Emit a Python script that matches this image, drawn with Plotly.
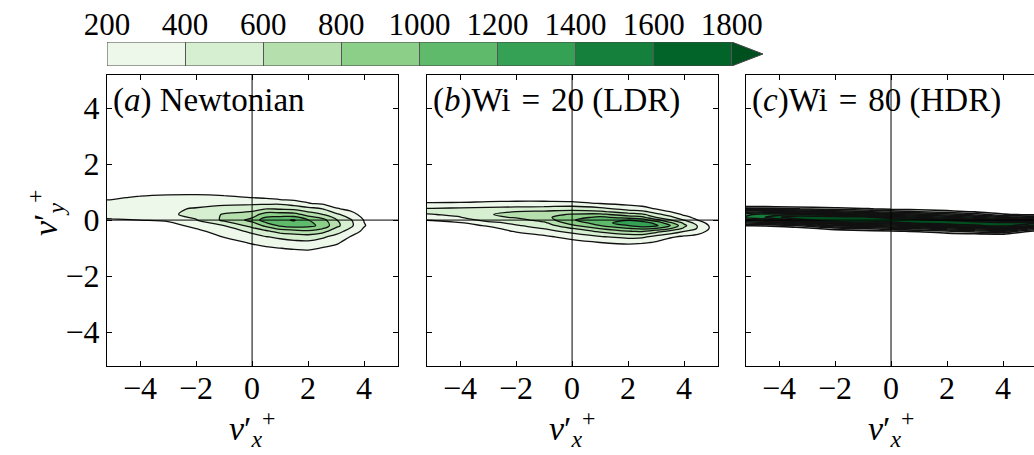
import numpy as np
import plotly.graph_objects as go

# ---------------- data ----------------
level_start, level_end, level_step = 200, 1800, 200
cbar_ticks = [200, 400, 600, 800, 1000, 1200, 1400, 1600, 1800]
band_colors = ['#eef8ea', '#d6efd0', '#b5e0ad', '#8bcf88', '#60ba6c',
               '#34a155', '#15803c', '#036429']
over_color = '#00501f'
under_color = '#ffffff'

xticks = [-4, -2, 0, 2, 4]
xticktext = ['\u22124', '\u22122', '0', '2', '4']
yticks = [4, 2, 0, -2, -4]
yticktext = ['4', '2', '0', '\u22122', '\u22124']

titles = ['(<i>a</i>) Newtonian',
          '(<i>b</i>)Wi\u2004=\u200420 (LDR)',
          '(<i>c</i>)Wi\u2004=\u200480 (HDR)']

# panel (a): joint PDF sampled on grid (columns = x nodes, entries = y nodes)
x_a = [-5.6, -5, -4, -3, -2, -1, 0, 0.5, 1, 1.5, 2, 2.5, 3, 3.5, 4, 4.5]
y_a = [1.2, 1.0, 0.8, 0.6, 0.4, 0.2, 0.0, -0.2, -0.4, -0.6, -0.8, -1.0, -1.2, -1.4]
pdf_a = [
    [0, 50, 150, 250, 270, 260, 170, 80, 20, 0, 0, 0, 0, 0],
    [0, 60, 170, 260, 290, 280, 180, 90, 30, 0, 0, 0, 0, 0],
    [20, 120, 230, 300, 340, 330, 200, 100, 40, 0, 0, 0, 0, 0],
    [40, 150, 250, 330, 380, 370, 230, 120, 50, 10, 0, 0, 0, 0],
    [40, 150, 260, 360, 410, 450, 390, 260, 150, 60, 10, 0, 0, 0],
    [30, 130, 240, 360, 470, 620, 640, 400, 290, 210, 100, 30, 0, 0],
    [20, 110, 200, 360, 520, 700, 860, 680, 440, 330, 230, 120, 40, 0],
    [20, 100, 180, 350, 600, 900, 1120, 850, 560, 390, 280, 170, 60, 0],
    [10, 80, 120, 360, 580, 900, 1160, 1030, 680, 440, 320, 200, 80, 10],
    [0, 50, 130, 280, 560, 880, 1215, 1100, 720, 480, 350, 230, 100, 20],
    [0, 30, 100, 210, 470, 720, 1010, 1060, 760, 500, 360, 250, 110, 20],
    [0, 10, 70, 160, 410, 610, 880, 950, 680, 430, 320, 190, 80, 0],
    [0, 0, 30, 110, 220, 440, 620, 660, 480, 340, 240, 140, 40, 0],
    [0, 0, 0, 40, 150, 290, 430, 450, 330, 195, 110, 40, 0, 0],
    [0, 0, 0, 0, 40, 120, 190, 215, 150, 60, 0, 0, 0, 0],
    [0, 0, 0, 0, 0, 20, 60, 80, 40, 0, 0, 0, 0, 0],
]

# panel (b)
x_b = [-5.6, -5, -4, -3, -2, -1, 0, 1, 2, 2.5, 3, 3.5, 4, 4.5, 5, 5.5]
y_b = [0.8, 0.6, 0.4, 0.3, 0.2, 0.1, 0.0, -0.1, -0.2, -0.3, -0.4, -0.6, -0.8, -1.0]
pdf_b = [
    [80, 210, 410, 450, 380, 280, 195, 140, 90, 50, 20, 0, 0, 0],
    [90, 215, 420, 455, 390, 290, 210, 140, 90, 50, 20, 0, 0, 0],
    [90, 220, 440, 470, 450, 390, 280, 190, 120, 60, 30, 0, 0, 0],
    [100, 240, 460, 540, 580, 550, 470, 340, 220, 150, 90, 20, 0, 0],
    [110, 250, 480, 600, 680, 620, 520, 450, 380, 280, 220, 70, 0, 0],
    [110, 250, 500, 630, 720, 760, 680, 560, 480, 410, 330, 150, 30, 0],
    [110, 240, 540, 650, 820, 900, 980, 900, 760, 600, 460, 280, 120, 20],
    [80, 190, 460, 630, 850, 1050, 1150, 1080, 990, 810, 640, 380, 200, 60],
    [40, 140, 330, 500, 700, 900, 1190, 1350, 1190, 990, 790, 450, 250, 80],
    [30, 110, 280, 450, 640, 850, 1100, 1300, 1300, 1050, 820, 440, 230, 60],
    [10, 60, 190, 320, 450, 600, 880, 1150, 1230, 995, 680, 320, 180, 40],
    [0, 30, 120, 200, 330, 450, 620, 850, 1020, 820, 540, 230, 80, 0],
    [0, 0, 40, 90, 160, 280, 400, 560, 650, 560, 400, 160, 30, 0],
    [0, 0, 0, 20, 60, 120, 190, 300, 380, 380, 300, 120, 0, 0],
    [0, 0, 0, 0, 0, 20, 50, 100, 140, 150, 120, 40, 0, 0],
    [0, 0, 0, 0, 0, 0, 0, 0, 0, 0, 0, 0, 0, 0],
]

# panel (c)
x_c = [-5.6, -4.5, -3.5, -2, -1, 0, 1, 2, 3, 4, 5, 5.6]
y_c = [0.6, 0.5, 0.4, 0.3, 0.2, 0.1, 0.0, -0.1, -0.2, -0.3, -0.4, -0.5, -0.6, -0.7]
pdf_c = [
    [0, 150, 500, 900, 1250, 1300, 1000, 600, 180, 0, 0, 0, 0, 0],
    [0, 130, 480, 1000, 1500, 1600, 1250, 700, 220, 20, 0, 0, 0, 0],
    [0, 100, 420, 950, 1600, 1950, 1600, 950, 350, 60, 0, 0, 0, 0],
    [0, 60, 300, 750, 1400, 1950, 2050, 1550, 850, 300, 60, 0, 0, 0],
    [0, 40, 230, 650, 1300, 1900, 2100, 1650, 950, 400, 100, 0, 0, 0],
    [0, 10, 150, 500, 1000, 1600, 2050, 1650, 1050, 550, 170, 20, 0, 0],
    [0, 0, 100, 400, 850, 1400, 1950, 1900, 1250, 650, 230, 50, 0, 0],
    [0, 0, 60, 280, 700, 1200, 1750, 2050, 1500, 850, 350, 120, 10, 0],
    [0, 0, 30, 180, 520, 1000, 1550, 2000, 1750, 1050, 480, 170, 30, 0],
    [0, 0, 0, 100, 220, 750, 1350, 1900, 1900, 1250, 600, 210, 50, 0],
    [0, 0, 0, 20, 150, 550, 1250, 1900, 1600, 650, 180, 20, 0, 0],
    [0, 0, 0, 0, 80, 450, 1200, 1850, 1400, 450, 80, 0, 0, 0],
]

# ---------------- styling / layout ----------------
W, H = 1034, 455
FONT = 'Liberation Serif, Times New Roman, serif'
line_widths = [1.3, 1.3, 1.6]

n_bands = len(band_colors)
nseg = n_bands + 1
colors_all = [under_color] + band_colors + [over_color]
colorscale = []
for k, c in enumerate(colors_all):
    lo = 0 if k == 0 else (k - 0.5) / nseg
    hi = 1 if k == len(colors_all) - 1 else (k + 0.5) / nseg
    colorscale.append([lo, c])
    colorscale.append([hi, c])

zmin_map = level_start - level_step / 2
zmax_map = level_end + level_step / 2

def px_x(p):
    return p / W

def px_y(p):
    return 1 - p / H

panel_px = [(107, 398), (427, 718), (746, 1034)]
panel_xrange = [[-5.18, 5.21], [-5.18, 5.21], [-5.18, 5.107]]
y_top, y_bot = 75, 366
yrange = [-5.21, 5.18]

fig = go.Figure()
datasets = [(x_a, y_a, pdf_a), (x_b, y_b, pdf_b), (x_c, y_c, pdf_c)]

layout = dict(width=W, height=H, margin=dict(l=0, r=0, t=0, b=0, pad=0, autoexpand=False),
              paper_bgcolor='white', plot_bgcolor='white', showlegend=False,
              template='none',
              font=dict(family=FONT, color='black'))
shapes = []
annotations = []

for i, (xs, ys, cols) in enumerate(datasets):
    idx = '' if i == 0 else str(i + 1)
    z = np.array(cols, dtype=float).T
    yarr = np.array(ys)[::-1]
    z = z[::-1]
    fig.add_trace(go.Contour(
        x=xs, y=yarr, z=z, xaxis='x' + idx, yaxis='y' + idx,
        autocontour=False,
        contours=dict(start=level_start, end=level_end, size=level_step,
                      coloring='fill', showlines=True),
        line=dict(color='#111111', width=line_widths[i], smoothing=1.0),
        colorscale=colorscale, showscale=False, hoverinfo='skip'))
    l, r = panel_px[i]
    xa = dict(domain=[px_x(l), px_x(r)], range=panel_xrange[i], anchor='y' + idx,
              automargin=False,
              showline=True, linecolor='black', linewidth=1, mirror='ticks',
              ticks='inside', ticklen=5, tickwidth=1, tickcolor='black',
              tickvals=xticks, ticktext=xticktext, ticklabelstandoff=-6,
              tickfont=dict(family=FONT, size=32, color='black'),
              showgrid=False, zeroline=False, fixedrange=True)
    ya = dict(domain=[px_y(y_bot), px_y(y_top)], range=yrange, anchor='x' + idx,
              automargin=False,
              showline=True, linecolor='black', linewidth=1,
              mirror=('ticks' if i < 2 else False),
              ticks='inside', ticklen=5, tickwidth=1, tickcolor='black',
              tickvals=yticks, ticktext=yticktext, showticklabels=(i == 0),
              tickfont=dict(family=FONT, size=32, color='black'),
              showgrid=False, zeroline=False, fixedrange=True)
    layout['xaxis' + idx] = xa
    layout['yaxis' + idx] = ya
    shapes.append(dict(type='line', xref='x' + idx, yref='y' + idx + ' domain',
                       x0=0, x1=0, y0=0, y1=1, layer='above',
                       line=dict(color='black', width=1)))
    shapes.append(dict(type='line', xref='x' + idx + ' domain', yref='y' + idx,
                       x0=0, x1=1, y0=0, y1=0, layer='above',
                       line=dict(color='black', width=1)))
    annotations.append(dict(text=titles[i], xref='paper', yref='paper',
                            x=px_x(l + 4), y=px_y(100), xanchor='left', yanchor='middle',
                            showarrow=False, font=dict(family=FONT, size=33, color='black')))
    zero_px = l + (0 - panel_xrange[i][0]) / (panel_xrange[i][1] - panel_xrange[i][0]) * (r - l)
    annotations.append(dict(text='<i>v</i>\u2032<sub><i>x</i></sub><sup>+</sup>',
                            xref='paper', yref='paper', x=px_x(zero_px), y=px_y(428),
                            xanchor='center', yanchor='middle', showarrow=False,
                            font=dict(family=FONT, size=34, color='black')))

annotations.append(dict(text='<i>v</i>\u2032<sub><i>y</i></sub><sup>+</sup>',
                        xref='paper', yref='paper', x=px_x(45), y=px_y(213),
                        xanchor='center', yanchor='middle', showarrow=False, textangle=-90,
                        font=dict(family=FONT, size=34, color='black')))

# ---------------- colour bar (drawn as its own axis) ----------------
arrow_len = 0.4 * level_step
cb_lo, cb_hi = cbar_ticks[0], cbar_ticks[-1]
band_mid = [(a + b) / 2 for a, b in zip(cbar_ticks[:-1], cbar_ticks[1:])]
fig.add_trace(go.Heatmap(x=cbar_ticks, y=[0, 1], z=[band_mid], xaxis='x4', yaxis='y4',
                         colorscale=colorscale, zmin=zmin_map, zmax=zmax_map,
                         showscale=False, hoverinfo='skip'))
fig.add_trace(go.Scatter(x=[cb_hi, cb_hi + arrow_len, cb_hi, cb_hi], y=[0, 0.5, 1, 0],
                         xaxis='x4', yaxis='y4', mode='lines', fill='toself',
                         fillcolor=over_color, line=dict(width=0), hoverinfo='skip'))
fig.add_trace(go.Scatter(x=[cb_lo, cb_hi, cb_hi + arrow_len, cb_hi, cb_lo, cb_lo],
                         y=[0, 0, 0.5, 1, 1, 0], xaxis='x4', yaxis='y4', mode='lines',
                         line=dict(color='#444444', width=1), cliponaxis=False,
                         hoverinfo='skip'))
layout['xaxis4'] = dict(domain=[px_x(107), px_x(763)], range=[cb_lo, cb_hi + arrow_len],
                        anchor='y4', side='top', tickvals=cbar_ticks, automargin=False,
                        ticktext=[str(t) for t in cbar_ticks],
                        ticks='inside', ticklen=24, tickwidth=1, tickcolor='#555555',
                        tickfont=dict(family=FONT, size=31, color='black'),
                        showline=False, showgrid=False, zeroline=False, fixedrange=True)
layout['yaxis4'] = dict(domain=[px_y(66), px_y(42)], range=[0, 1], anchor='x4',
                        visible=False, fixedrange=True, automargin=False)

layout['shapes'] = shapes
layout['annotations'] = annotations
fig.update_layout(**layout)

fig.write_html('out.html', config={'displayModeBar': False})
